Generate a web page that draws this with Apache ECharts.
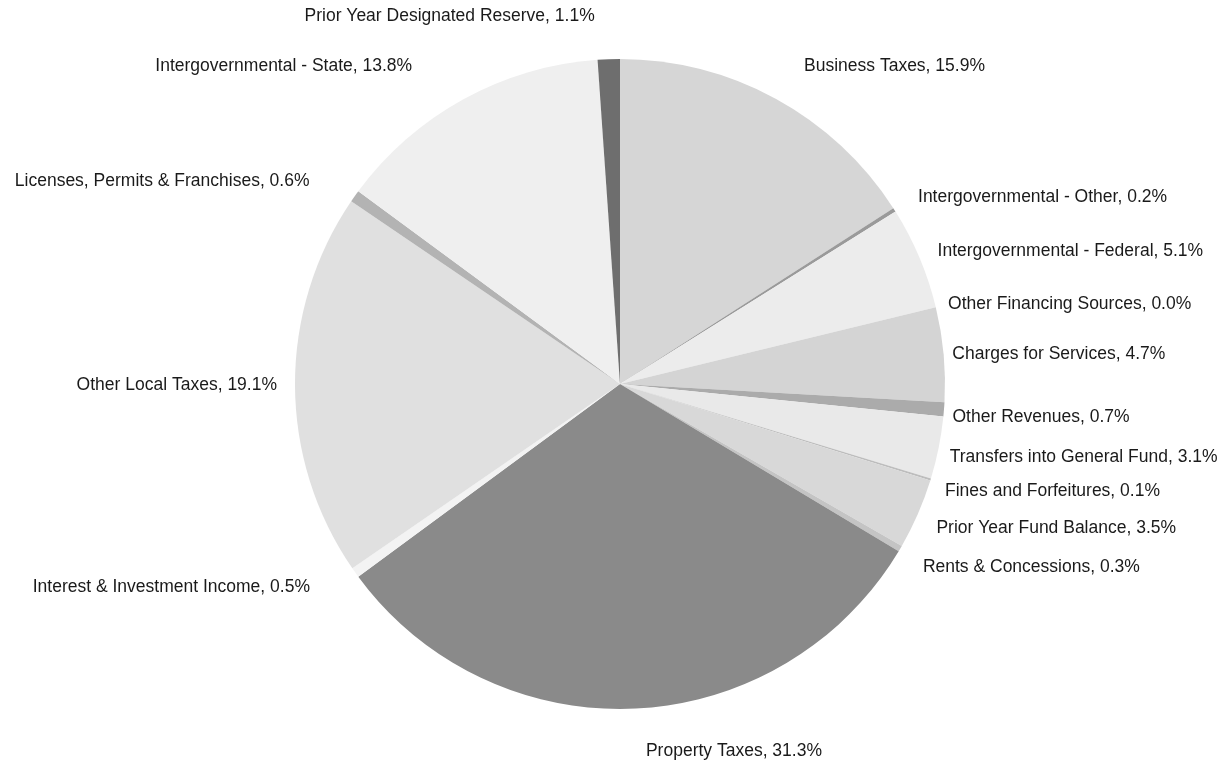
<!DOCTYPE html>
<html>
<head>
<meta charset="utf-8">
<script src="https://cdn.jsdelivr.net/npm/echarts@6/dist/echarts.min.js"></script>
<style>
  html, body { margin: 0; padding: 0; background: #fff; }
  #main { width: 1230px; height: 763px; }
</style>
</head>
<body>
<div id="main"></div>
<script>
// slices, clockwise from 12 o'clock
const categories = [
  'Business Taxes', 'Intergovernmental - Other', 'Intergovernmental - Federal',
  'Other Financing Sources', 'Charges for Services', 'Other Revenues',
  'Transfers into General Fund', 'Fines and Forfeitures', 'Prior Year Fund Balance',
  'Rents & Concessions', 'Property Taxes', 'Interest & Investment Income',
  'Other Local Taxes', 'Licenses, Permits & Franchises', 'Intergovernmental - State',
  'Prior Year Designated Reserve'
]
const percents = [15.9, 0.2, 5.1, 0.0, 4.7, 0.7, 3.1, 0.1, 3.5, 0.3, 31.3, 0.5, 19.1, 0.6, 13.8, 1.1]
const shades = [
  '#d6d6d6', '#9a9a9a', '#ececec', '#cfcfcf', '#d4d4d4', '#ababab',
  '#e9e9e9', '#bdbdbd', '#d8d8d8', '#c4c4c4', '#8a8a8a', '#f3f3f3',
  '#e0e0e0', '#b3b3b3', '#efefef', '#6e6e6e'
]

const cx = 620, cy = 384

const chart = echarts.init(document.getElementById('main'))

// push labels out a bit more toward top/bottom and the diagonals (excel style)
const spreadLabel = function (params) {
  const r = params.labelRect
  const onLeft = params.align === 'right'
  const ax = onLeft ? r.x + r.width : r.x
  const ay = r.y + r.height / 2
  const vx = ax - cx, vy = ay - cy
  const len = Math.sqrt(vx * vx + vy * vy) || 1
  const ux = Math.abs(vx / len), uy = Math.abs(vy / len)
  let dy = Math.sign(vy) * 40 * uy * uy
  if (vy > 0 && !onLeft && ux > 0.5) dy += 7
  const near = Math.min(1, ux * 4)
  const dx = onLeft
    ? -(10 + 35 * (1 - Math.pow(ux, 8))) * near
    : 22 * (1 - Math.pow(ux, 8)) * near
  return { dx: dx, dy: dy }
}

const option = {
  animation: false,
  backgroundColor: '#ffffff',
  series: [
    {
      type: 'pie',
      center: [cx, cy],
      radius: [0, 325],
      startAngle: 90,
      clockwise: true,
      minAngle: 0,
      avoidLabelOverlap: true,
      data: categories.map((name, i) => ({
        name: name,
        value: percents[i],
        itemStyle: { color: shades[i] }
      })),
      itemStyle: { borderWidth: 0 },
      label: {
        show: true,
        position: 'outside',
        color: '#1a1a1a',
        fontFamily: 'Liberation Sans, Arial, sans-serif',
        fontSize: 17.5,
        overflow: 'none',
        formatter: p => p.name + ', ' + p.value.toFixed(1) + '%'
      },
      labelLine: { show: false, length: 3, length2: 0 },
      labelLayout: spreadLabel,
      emphasis: { disabled: true }
    }
  ]
}

chart.setOption(option)
</script>
</body>
</html>
